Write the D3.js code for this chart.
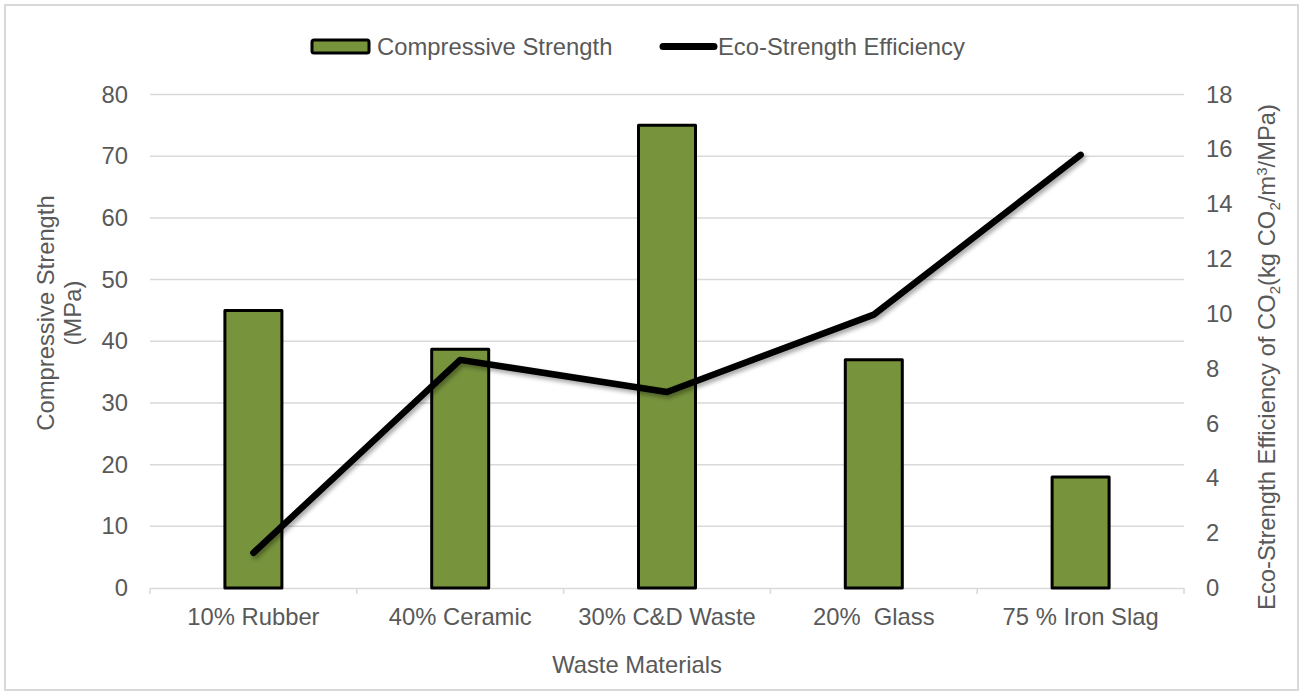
<!DOCTYPE html>
<html>
<head>
<meta charset="utf-8">
<script src="https://cdn.jsdelivr.net/npm/d3@7"></script>
<style>
  html, body { margin: 0; padding: 0; background: #fff; }
  svg { display: block; font-family: "Liberation Sans", Arial, sans-serif; }
</style>
</head>
<body>
<svg id="chart" width="1303" height="695"></svg>
<script>
// Waste materials tested in the concrete mixes
const categories = ["10% Rubber", "40% Ceramic", "30% C&D Waste", "20%  Glass", "75 % Iron Slag"];
// Compressive strength, MPa (bars, left axis)
const strength = [45, 38.7, 75, 37, 18];
// Eco-strength efficiency, kg CO2/m3/MPa (line, right axis)
const efficiency = [1.28, 8.32, 7.15, 9.97, 15.8];
// Axis tick values
const leftTicks = [0, 10, 20, 30, 40, 50, 60, 70, 80];
const rightTicks = [0, 2, 4, 6, 8, 10, 12, 14, 16, 18];

const W = 1303, H = 695;
const plot = { left: 150, right: 1184, top: 94.5, bottom: 588 };
const textColor = "#595959";
const gridColor = "#d9d9d9";
const barColor = "#77933c";
const fontSize = 23.8;

const svg = d3.select("#chart");

// Drop shadow used by the line series
const defs = svg.append("defs");
const shadow = defs.append("filter").attr("id", "lineShadow")
  .attr("x", "-10%").attr("y", "-10%").attr("width", "120%").attr("height", "130%");
shadow.append("feDropShadow")
  .attr("dx", 2).attr("dy", 3).attr("stdDeviation", 2)
  .attr("flood-color", "#000").attr("flood-opacity", 0.35);

// Chart frame
svg.append("rect")
  .attr("x", 5).attr("y", 5).attr("width", W - 10).attr("height", H - 10)
  .attr("fill", "#fff").attr("stroke", gridColor).attr("stroke-width", 2);

const x = d3.scaleBand().domain(categories).range([plot.left, plot.right]).paddingInner(0).paddingOuter(0);
const yL = d3.scaleLinear().domain([0, 80]).range([plot.bottom, plot.top]);
const yR = d3.scaleLinear().domain([0, 18]).range([plot.bottom, plot.top]);

// Horizontal gridlines
svg.append("g").selectAll("line")
  .data(leftTicks.filter(d => d > 0))
  .join("line")
  .attr("x1", plot.left).attr("x2", plot.right)
  .attr("y1", d => yL(d)).attr("y2", d => yL(d))
  .attr("stroke", gridColor).attr("stroke-width", 1.5);

// Category axis (bottom)
const xAxis = svg.append("g")
  .attr("transform", `translate(0,${plot.bottom})`)
  .call(d3.axisBottom(x).tickSize(0).tickPadding(20));
xAxis.select(".domain").attr("stroke", gridColor).attr("stroke-width", 1.5);
xAxis.selectAll("text").attr("fill", textColor).attr("font-size", fontSize)
  .style("white-space", "pre").attr("dy", "0.71em");
// Tick marks on category boundaries
const bounds = categories.map(c => x(c)).concat([plot.right]);
xAxis.selectAll(".bound").data(bounds).join("line").attr("class", "bound")
  .attr("x1", d => d).attr("x2", d => d).attr("y1", 0).attr("y2", 6)
  .attr("stroke", gridColor).attr("stroke-width", 1.5);

// Left value axis
const yAxisL = svg.append("g")
  .attr("transform", `translate(${plot.left},0)`)
  .call(d3.axisLeft(yL).tickValues(leftTicks).tickSize(0).tickPadding(22));
yAxisL.select(".domain").remove();
yAxisL.selectAll("text").attr("fill", textColor).attr("font-size", fontSize);

// Right value axis
const yAxisR = svg.append("g")
  .attr("transform", `translate(${plot.right},0)`)
  .call(d3.axisRight(yR).tickValues(rightTicks).tickSize(0).tickPadding(22));
yAxisR.select(".domain").remove();
yAxisR.selectAll("text").attr("fill", textColor).attr("font-size", fontSize);

// Bars
const barW = 57;
svg.append("g").selectAll("rect")
  .data(categories.map((c, i) => ({ c, v: strength[i] })))
  .join("rect")
  .attr("x", d => x(d.c) + x.bandwidth() / 2 - barW / 2)
  .attr("y", d => yL(d.v))
  .attr("width", barW)
  .attr("height", d => plot.bottom - yL(d.v))
  .attr("fill", barColor)
  .attr("stroke", "#000").attr("stroke-width", 3).attr("stroke-linejoin", "round");

// Line series
const line = d3.line()
  .x((d, i) => x(categories[i]) + x.bandwidth() / 2)
  .y(d => yR(d));
svg.append("path")
  .datum(efficiency)
  .attr("d", line)
  .attr("fill", "none").attr("stroke", "#000").attr("stroke-width", 6.5)
  .attr("stroke-linecap", "round").attr("stroke-linejoin", "round")
  .attr("filter", "url(#lineShadow)");

// Axis titles
svg.append("text")
  .attr("x", 637).attr("y", 673)
  .attr("text-anchor", "middle").attr("fill", textColor).attr("font-size", fontSize)
  .text("Waste Materials");

const leftTitle = svg.append("text")
  .attr("transform", "translate(54,313) rotate(-90)")
  .attr("text-anchor", "middle").attr("fill", textColor).attr("font-size", fontSize);
leftTitle.append("tspan").attr("x", 0).attr("dy", "0").text("Compressive Strength");
leftTitle.append("tspan").attr("x", 0).attr("dy", "1.15em").text("(MPa)");

const rightTitle = svg.append("text")
  .attr("transform", "translate(1275,357) rotate(-90)")
  .attr("text-anchor", "middle").attr("fill", textColor).attr("font-size", fontSize);
rightTitle.append("tspan").text("Eco-Strength Efficiency of CO");
rightTitle.append("tspan").attr("font-size", 15).attr("dy", 5).text("2");
rightTitle.append("tspan").attr("dy", -5).text("(kg CO");
rightTitle.append("tspan").attr("font-size", 15).attr("dy", 5).text("2");
rightTitle.append("tspan").attr("dy", -5).text("/m");
rightTitle.append("tspan").attr("font-size", 15).attr("dy", -8).text("3");
rightTitle.append("tspan").attr("dy", 8).text("/MPa)");

// Legend
const legend = svg.append("g");
legend.append("rect")
  .attr("x", 312).attr("y", 40).attr("width", 57).attr("height", 13)
  .attr("rx", 2).attr("fill", barColor).attr("stroke", "#000").attr("stroke-width", 3);
legend.append("text")
  .attr("x", 377).attr("y", 55).attr("fill", textColor).attr("font-size", fontSize)
  .text("Compressive Strength");
legend.append("line")
  .attr("x1", 663).attr("x2", 714).attr("y1", 46.5).attr("y2", 46.5)
  .attr("stroke", "#000").attr("stroke-width", 7).attr("stroke-linecap", "round");
legend.append("text")
  .attr("x", 718).attr("y", 55).attr("fill", textColor).attr("font-size", fontSize)
  .text("Eco-Strength Efficiency");
</script>
</body>
</html>
